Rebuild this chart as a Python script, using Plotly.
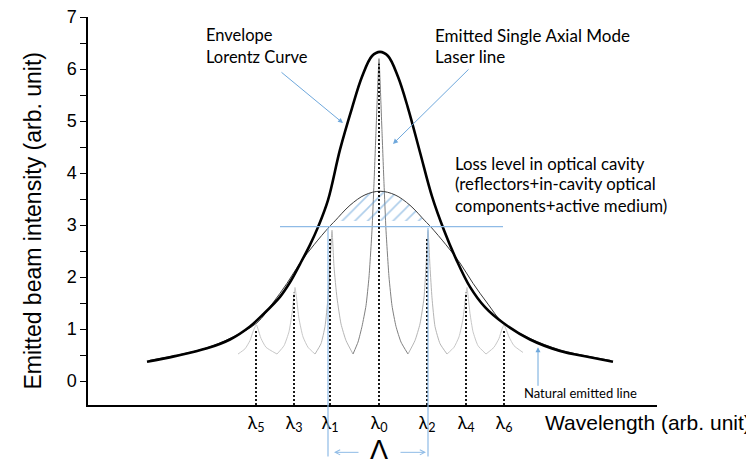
import plotly.graph_objects as go

# ---------------- data ----------------
# x is an arbitrary wavelength scale, y is intensity (arb. unit)
y_ticks = [0, 1, 2, 3, 4, 5, 6, 7]

mode_labels = ["λ<sub>5</sub>", "λ<sub>3</sub>", "λ<sub>1</sub>", "λ<sub>0</sub>",
               "λ<sub>2</sub>", "λ<sub>4</sub>", "λ<sub>6</sub>"]
mode_x = [256, 294, 330, 379, 427, 466, 504]
mode_dot_top = [1.0, 1.7, 2.75, 6.1, 2.75, 1.7, 1.0]

# Envelope Lorentz curve (thick)
env_x = [147, 175, 207, 230, 250, 263, 280, 290, 300, 310, 318, 328, 340, 352, 362, 372,
         380, 388, 398, 408, 420, 432, 444, 456, 470, 485, 503, 530, 560, 590, 613]
env_y = [0.37, 0.48, 0.63, 0.80, 1.05, 1.28, 1.62, 1.90, 2.25, 2.62, 2.96, 3.48, 4.45, 5.25, 5.85, 6.25,
         6.33, 6.25, 5.85, 5.25, 4.40, 3.55, 2.90, 2.35, 1.81, 1.42, 1.12, 0.80, 0.58, 0.46, 0.37]

# Natural emitted line (thin)
nat_x = [150, 180, 207, 230, 257, 272, 287, 300, 314, 329, 335, 350, 365, 380,
         395, 410, 425, 431, 446, 460, 473, 488, 503, 530, 560, 590, 610]
nat_y = [0.40, 0.51, 0.64, 0.82, 1.12, 1.48, 1.88, 2.27, 2.62, 2.96, 3.08, 3.38, 3.58, 3.65,
         3.58, 3.38, 3.08, 2.96, 2.62, 2.27, 1.88, 1.48, 1.12, 0.82, 0.60, 0.47, 0.40]

# Loss level in optical cavity
loss_level = 2.97
loss_x = [280, 503]

# Axial mode lines (cusps)
m5_x = [238, 245, 250, 253, 255, 256.5, 258, 261, 266, 277]
m5_y = [0.52, 0.62, 0.78, 0.95, 1.04, 1.08, 1.00, 0.82, 0.65, 0.52]
m3_x = [277, 284, 289, 292, 294, 295, 296.5, 299, 303, 308, 315]
m3_y = [0.52, 0.68, 0.95, 1.30, 1.65, 1.80, 1.60, 1.20, 0.85, 0.65, 0.52]
m1_x = [315, 321, 325, 328, 330, 332, 334, 337, 341, 346, 353]
m1_y = [0.52, 0.72, 1.05, 1.60, 2.20, 2.90, 2.20, 1.60, 1.10, 0.78, 0.52]
m0_x = [353, 358, 362, 366, 369, 372, 374, 376, 378, 379, 380, 382, 384, 386, 389, 392, 396, 401, 408]
m0_y = [0.52, 0.75, 1.05, 1.45, 2.00, 2.90, 3.80, 4.80, 5.80, 6.20, 5.80, 4.80, 3.80, 2.90, 2.00, 1.45, 1.05, 0.75, 0.52]
m2_x = [408, 415, 420, 424, 426, 428, 430, 432, 435, 440, 447]
m2_y = [0.52, 0.78, 1.10, 1.60, 2.20, 2.90, 2.20, 1.60, 1.05, 0.72, 0.52]
m4_x = [447, 454, 459, 463, 465.5, 467, 468, 470, 473, 478, 486]
m4_y = [0.52, 0.65, 0.85, 1.20, 1.60, 1.80, 1.65, 1.30, 0.95, 0.68, 0.52]
m6_x = [486, 494, 499, 502, 504, 506, 509, 514, 523]
m6_y = [0.52, 0.65, 0.82, 1.00, 1.08, 1.00, 0.85, 0.68, 0.55]

# ---------------- figure ----------------
X_RANGE = [88, 657]
Y_RANGE = [-0.46, 7.0]
BLUE = "#8fbbe6"
ARROW = "#6fa8dc"
TXT_FONT = "Lato"

fig = go.Figure()

light = "#c8c8c8"
for xs, ys, col in [(m5_x, m5_y, light), (m3_x, m3_y, light), (m1_x, m1_y, "#b5b5b5"),
                    (m0_x, m0_y, "#808080"), (m2_x, m2_y, "#b5b5b5"), (m4_x, m4_y, light),
                    (m6_x, m6_y, light)]:
    fig.add_trace(go.Scatter(x=xs, y=ys, mode="lines",
                             line=dict(color=col, width=1, shape="spline", smoothing=0.5)))

# hatched region between natural line and the loss level
hx = [x for x, y in zip(nat_x, nat_y) if y >= loss_level]
hy = [y for y in nat_y if y >= loss_level]
fig.add_trace(go.Scatter(x=hx, y=hy, mode="lines", fill="toself",
                         line=dict(width=0, shape="spline"),
                         fillcolor="rgba(0,0,0,0)",
                         fillpattern=dict(shape="/", fgcolor="#5b9bd5", bgcolor="rgba(0,0,0,0)",
                                          size=9, solidity=0.18)))

fig.add_trace(go.Scatter(x=nat_x, y=nat_y, mode="lines",
                         line=dict(color="#3a3a3a", width=1, shape="spline")))
fig.add_trace(go.Scatter(x=env_x, y=env_y, mode="lines",
                         line=dict(color="black", width=2.6, shape="spline")))

fig.add_trace(go.Scatter(x=loss_x, y=[loss_level, loss_level], mode="lines",
                         line=dict(color=BLUE, width=1.3)))

# dotted mode markers
dx, dy = [], []
for xv, top in zip(mode_x, mode_dot_top):
    dx += [xv, xv, None]
    dy += [Y_RANGE[0], top, None]
fig.add_trace(go.Scatter(x=dx, y=dy, mode="lines",
                         line=dict(color="black", width=1.8, dash="2px,2px")))

ann = []
def text(x, y, s, size=17, font=TXT_FONT, xanchor="left", yref="y", **kw):
    ann.append(dict(x=x, y=y, xref="x", yref=yref, text=s, showarrow=False,
                    xanchor=xanchor, yanchor="middle",
                    font=dict(family=font, size=size, color="black"), **kw))

def arrow(x0, y0, x1, y1, head=2, color=ARROW, width=1, size=1.0):
    ann.append(dict(x=x1, y=y1, ax=x0, ay=y0, xref="x", yref="y", axref="x", ayref="y",
                    text="", showarrow=True, arrowhead=head, arrowsize=size,
                    arrowwidth=width, arrowcolor=color, standoff=0, startstandoff=0))

def harrow_below(x_tail, x_head, ypaper, color=BLUE):
    # horizontal arrow drawn below the plotting area (paper y)
    ann.append(dict(x=x_head, y=ypaper, ax=x_tail, ay=0, xref="x", yref="paper",
                    axref="x", ayref="pixel", text="", showarrow=True, arrowhead=5,
                    arrowsize=1, arrowwidth=1, arrowcolor=color, standoff=0, startstandoff=0))

text(204, 6.66, "Envelope", size=16.5)
text(204, 6.24, "Lorentz Curve", size=16.5)
text(433, 6.64, "Emitted Single Axial Mode")
text(433, 6.24, "Laser line")
text(453, 4.19, "Loss level in optical cavity", size=16.8)
text(453, 3.79, "(reflectors+in-cavity optical", size=16.8)
text(453, 3.37, "components+active medium)", size=16.8)
text(522, -0.23, "Natural emitted line", size=13)

arrow(280, 5.96, 343, 4.96)
arrow(470, 6.02, 393, 4.56)
arrow(538, -0.12, 538, 0.65)

# blue vertical lines framing the mode spacing
arrow(328, loss_level, 328, -1.45, head=0, color=BLUE, width=1.2)
arrow(428, loss_level, 428, -1.45, head=0, color=BLUE, width=1.2)
# spacing arrows and symbol (below the axis, paper coordinates)
harrow_below(360, 334, -0.122)
harrow_below(399, 426, -0.122)
text(379, -0.117, "Λ", size=27, font="Liberation Sans", xanchor="center", yref="paper")

# axis titles
ann.append(dict(x=-0.097, y=0.475, xref="paper", yref="paper", text="Emitted beam intensity (arb. unit)",
                showarrow=False, textangle=-90, xanchor="center", yanchor="middle",
                font=dict(family="Liberation Sans", size=23, color="black")))
ann.append(dict(x=1.0, y=-0.045, xref="paper", yref="paper", text="Wavelength (arb. unit)",
                showarrow=False, xanchor="left", yanchor="middle", xshift=-114,
                font=dict(family="Liberation Sans", size=21, color="black")))

# the page adds an 8 px body margin, so the figure is 8 px smaller and offset
fig.update_layout(
    width=746, height=458,
    margin=dict(l=80, r=97, t=9, b=61),
    paper_bgcolor="white", plot_bgcolor="white",
    showlegend=False, hovermode=False,
    annotations=ann,
    xaxis=dict(range=X_RANGE, showgrid=False, zeroline=False, showline=True,
               linecolor="black", linewidth=2, ticks="",
               tickmode="array", tickvals=mode_x, ticktext=mode_labels,
               tickfont=dict(family=TXT_FONT, size=18, color="black")),
    yaxis=dict(range=Y_RANGE, showgrid=False, zeroline=False, showline=True,
               linecolor="black", linewidth=1.5, ticks="outside", ticklen=6, tickwidth=1,
               tickcolor="black", tickmode="array", tickvals=y_ticks, automargin=False,
               ticklabeloverflow="allow",
               minor=dict(ticks="outside", ticklen=6, tickwidth=1, tickcolor="black", dtick=0.5),
               tickfont=dict(family="Liberation Sans", size=18, color="black")),
)

fig.write_html("out.html")
